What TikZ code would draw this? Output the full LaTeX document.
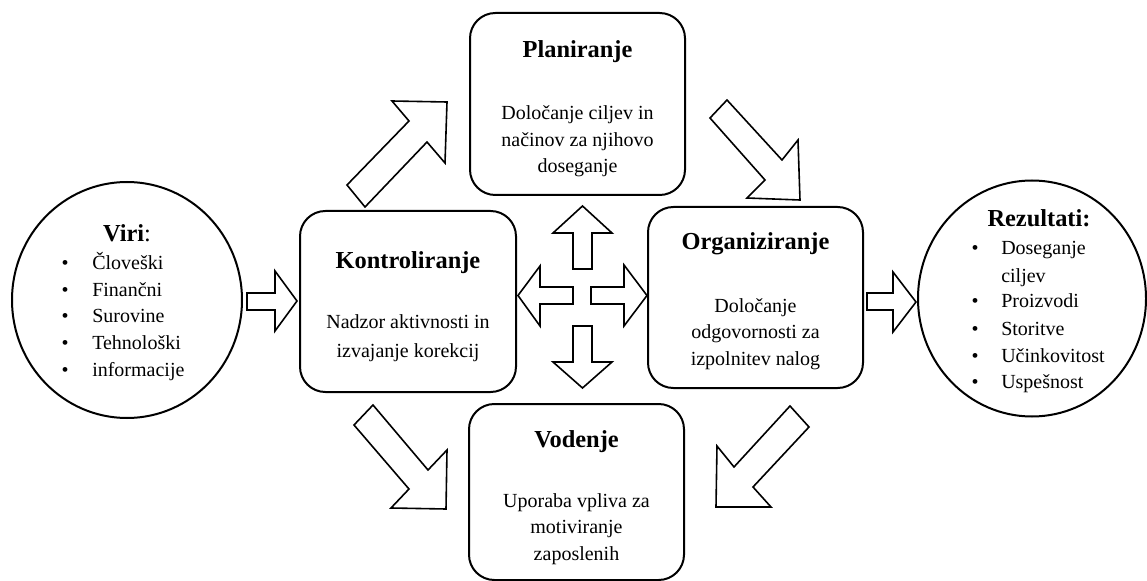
\documentclass[tikz,border=0pt]{standalone}
\usepackage{fontspec}
\setmainfont{Liberation Serif}
\usetikzlibrary{shapes.geometric,fit}
\tikzset{
  box/.style={draw, line width=1.5pt, rounded corners=19pt, inner sep=0pt},
  circ/.style={draw, ellipse, line width=1.5pt, inner sep=0pt},
  barrow/.style={draw, line width=1.2pt, fill=white, line join=miter},
  ttl/.style={font=\fontsize{18.3}{22}\selectfont\bfseries, anchor=base, inner sep=0pt},
  txt/.style={font=\fontsize{15}{20}\selectfont, anchor=base, inner sep=0pt},
  itm/.style={txt, anchor=base west},
}
\begin{document}
\begin{tikzpicture}[x=0.75pt,y=-0.75pt]
\useasboundingbox (0,0) rectangle (1147,581);

% boxes
\node[box, fit={(470,13) (685,195)}] (plan) {};
\node[box, fit={(300,211) (516,392)}] (kont) {};
\node[box, fit={(648,207) (863,388)}] (org) {};
\node[box, fit={(469,404) (684,580)}] (vod) {};

% circles
\node[circ, minimum width=172.5pt, minimum height=177pt] (viri) at (127,300) {};
\node[circ, minimum width=171pt, minimum height=177pt] (rez) at (1032,298.5) {};

% Planiranje
\node[ttl] (planT) at (577.5,58) {Planiranje};
\node[txt] (planL1) at (577.5,120) {Določanje ciljev in};
\node[txt] (planL2) at (577.5,147) {načinov za njihovo};
\node[txt] (planL3) at (577.5,173) {doseganje};

% Kontroliranje
\node[ttl] (kontT) at (408,268) {Kontroliranje};
\node[txt] (kontL1) at (408,329) {Nadzor aktivnosti in};
\node[txt] (kontL2) at (408,357) {izvajanje korekcij};

% Organiziranje
\node[ttl] (orgT) at (755.5,250) {Organiziranje};
\node[txt] (orgL1) at (755.5,312) {Določanje};
\node[txt] (orgL2) at (755.5,338.5) {odgovornosti za};
\node[txt] (orgL3) at (755.5,365) {izpolnitev nalog};

% Vodenje
\node[ttl] (vodT) at (576.5,447) {Vodenje};
\node[txt] (vodL1) at (576.5,507) {Uporaba vpliva za};
\node[txt] (vodL2) at (576.5,533.5) {motiviranje};
\node[txt] (vodL3) at (576.5,560) {zaposlenih};

% Viri
\node[ttl, font=\fontsize{18.3}{22}\selectfont] (viriT) at (127,242) {{\bfseries Viri}:};
\foreach \t/\y/\n in {Človeški/270/1, Finančni/296.5/2, Surovine/323/3, Tehnološki/349.5/4, informacije/376/5}{
  \node[txt] (viriB\n) at (65,\y) {•};
  \node[itm] (viriI\n) at (92,\y) {\t};
}

% Rezultati
\node[ttl] (rezT) at (1039,227) {Rezultati:};
\foreach \y/\n in {255/1, 308/3, 335/4, 362/5, 388/6}{
  \node[txt] (rezB\n) at (975,\y) {•};
}
\node[itm] (rezI1) at (1001,255) {Doseganje};
\node[itm] (rezI2) at (1001,282) {ciljev};
\node[itm] (rezI3) at (1001,308) {Proizvodi};
\node[itm] (rezI4) at (1001,335) {Storitve};
\node[itm] (rezI5) at (1001,362) {Učinkovitost};
\node[itm] (rezI6) at (1001,388) {Uspešnost};

% block arrows: Viri -> Kontroliranje, Organiziranje -> Rezultati
\draw[barrow] (247,293) -- (275,293) -- (275,271) -- (297,301) -- (275,331) -- (275,310) -- (247,310) -- cycle;
\draw[barrow] (867,293) -- (893,293) -- (893,272) -- (916,302) -- (893,332) -- (893,310) -- (867,310) -- cycle;

% central cross
\draw[barrow] (573,269) -- (573,233) -- (553,233) -- (582.5,206) -- (612,233) -- (592,233) -- (592,269) -- cycle;
\draw[barrow] (573,326) -- (573,362) -- (553,362) -- (582.5,388) -- (612,362) -- (592,362) -- (592,326) -- cycle;
\draw[barrow] (573,287) -- (540,287) -- (540,266) -- (518,295.5) -- (540,326) -- (540,304) -- (573,304) -- cycle;
\draw[barrow] (591,287) -- (624,287) -- (624,265) -- (647,295.5) -- (624,326) -- (624,304) -- (591,304) -- cycle;

% diagonal arrows
\draw[barrow] (347,185) -- (409,121) -- (392,101) -- (447,102) -- (445,163) -- (427,142) -- (365,207) -- cycle;
\draw[barrow] (710,118) -- (727,100) -- (782,160) -- (798,140) -- (800,200) -- (747,198) -- (765,180) -- cycle;
\draw[barrow] (373,405) -- (428,470) -- (447,450) -- (446,509) -- (391,508) -- (409,489) -- (354,425) -- cycle;
\draw[barrow] (790,406) -- (809,427) -- (753,487) -- (771,507) -- (716,507) -- (717,446) -- (734,467) -- cycle;
\end{tikzpicture}
\end{document}
